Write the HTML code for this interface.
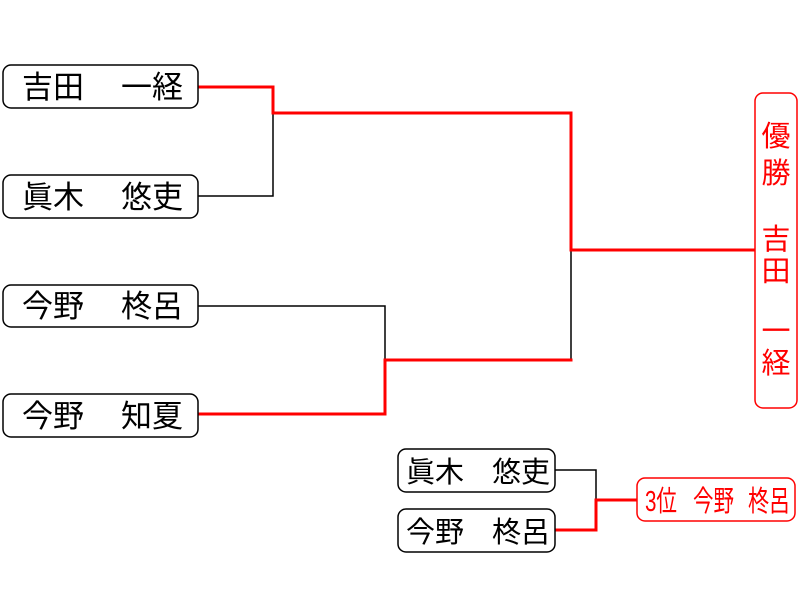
<!DOCTYPE html>
<html><head><meta charset="utf-8"><style>
html,body{margin:0;padding:0;background:#fff;}
text{font-family:"Liberation Sans","Noto Sans CJK JP",sans-serif;}
</style></head><body>
<svg width="800" height="600" xmlns="http://www.w3.org/2000/svg">
<g fill="none" stroke-linecap="square">
<path d="M198 196H273V113" stroke="#000" stroke-width="1.5"/>
<path d="M198 306H385V360" stroke="#000" stroke-width="1.5"/>
<path d="M571 250V360" stroke="#000" stroke-width="1.5"/>
<path d="M198 87H273V113H571V250H755" stroke="#f00" stroke-width="3"/>
<path d="M198 414H385V360H571" stroke="#f00" stroke-width="3"/>
<path d="M555 470H596V500" stroke="#000" stroke-width="1.5"/>
<path d="M555 530H596V500H637" stroke="#f00" stroke-width="3"/>
</g>
<g fill="#fff" stroke="#000" stroke-width="1.5">
<rect x="3" y="65" width="195" height="43" rx="8"/>
<rect x="3" y="175" width="195" height="43" rx="8"/>
<rect x="3" y="285" width="195" height="42" rx="8"/>
<rect x="3" y="394" width="195" height="43" rx="8"/>
<rect x="398" y="449" width="157" height="43" rx="8"/>
<rect x="398" y="509" width="157" height="43" rx="8"/>
</g>
<g fill="#fff" stroke="#f00" stroke-width="1.5">
<rect x="755" y="93" width="42" height="315" rx="8"/>
<rect x="637" y="478" width="158" height="43" rx="8"/>
</g>
<g font-size="31" fill="#000">
<text x="22" y="98">吉田</text><text x="121" y="98">一経</text>
<text x="22" y="208">眞木</text><text x="121" y="208">悠吏</text>
<text x="22" y="317">今野</text><text x="121" y="317">柊呂</text>
<text x="22" y="427">今野</text><text x="121" y="427">知夏</text>
</g>
<g font-size="29" fill="#000">
<text x="406" y="482">眞木</text><text x="492" y="482">悠吏</text>
<text x="406" y="542">今野</text><text x="492" y="542">柊呂</text>
</g>
<g font-size="29" fill="#f00" text-anchor="middle">
<text x="776" y="146">優</text><text x="776" y="183">勝</text>
<text x="776" y="249">吉</text><text x="776" y="281">田</text>
<text x="776" y="341">一</text><text x="776" y="373">経</text>
</g>
<g font-size="29" fill="#f00">
<text x="645" y="511" textLength="32" lengthAdjust="spacingAndGlyphs">3位</text>
<text x="693" y="511" textLength="41" lengthAdjust="spacingAndGlyphs">今野</text>
<text x="748" y="511" textLength="42" lengthAdjust="spacingAndGlyphs">柊呂</text>
</g>
</svg>
</body></html>
